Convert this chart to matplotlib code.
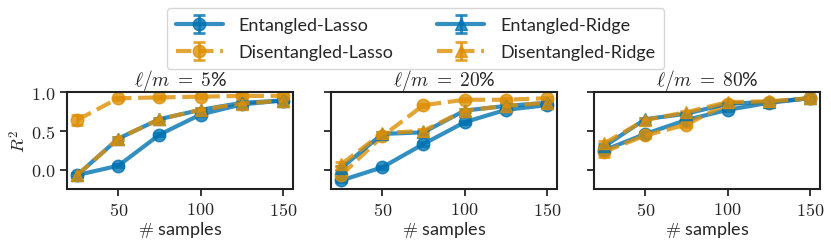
import numpy as np
import matplotlib
matplotlib.use("Agg")
import matplotlib.pyplot as plt
from matplotlib.ticker import FormatStrFormatter
import seaborn as sns

sns.set_style("ticks")
plt.rcParams['font.family'] = ['Lato', 'DejaVu Sans']
plt.rcParams['mathtext.fontset'] = 'cm'

samples = [25, 50, 75, 100, 125, 150]
ratios = ['5', '20', '80']

# R^2 per ratio panel
ent_lasso = [
    [-0.07, 0.05, 0.45, 0.71, 0.84, 0.89],
    [-0.14, 0.03, 0.33, 0.61, 0.77, 0.83],
    [0.25, 0.46, 0.64, 0.77, 0.86, 0.92],
]
ent_ridge = [
    [-0.07, 0.40, 0.65, 0.77, 0.86, 0.89],
    [0.02, 0.46, 0.48, 0.76, 0.82, 0.86],
    [0.30, 0.65, 0.72, 0.85, 0.87, 0.92],
]
dis_lasso = [
    [0.64, 0.92, 0.93, 0.94, 0.95, 0.95],
    [-0.07, 0.43, 0.83, 0.90, 0.90, 0.92],
    [0.23, 0.44, 0.58, 0.85, 0.87, 0.92],
]
dis_ridge = [
    [-0.07, 0.40, 0.65, 0.77, 0.85, 0.89],
    [0.07, 0.47, 0.50, 0.76, 0.82, 0.86],
    [0.34, 0.64, 0.74, 0.87, 0.88, 0.92],
]
# error bars
ent_lasso_err = [
    [0.02, 0.02, 0.02, 0.02, 0.02, 0.02],
    [0.02, 0.02, 0.02, 0.02, 0.02, 0.02],
    [0.03, 0.02, 0.02, 0.02, 0.02, 0.02],
]
ent_ridge_err = ent_lasso_err
dis_lasso_err = [
    [0.07, 0.02, 0.02, 0.02, 0.02, 0.02],
    [0.03, 0.02, 0.02, 0.02, 0.02, 0.02],
    [0.07, 0.03, 0.03, 0.02, 0.02, 0.02],
]
dis_ridge_err = [
    [0.03, 0.02, 0.02, 0.02, 0.02, 0.02],
    [0.03, 0.02, 0.02, 0.02, 0.02, 0.02],
    [0.03, 0.02, 0.02, 0.02, 0.02, 0.02],
]

blue = '#0173b2'
orange = '#de8f05'

series = [
    ('Entangled-Lasso', ent_lasso, ent_lasso_err, blue, 'o', '-'),
    ('Disentangled-Lasso', dis_lasso, dis_lasso_err, orange, 'o', '--'),
    ('Entangled-Ridge', ent_ridge, ent_ridge_err, blue, '^', '-'),
    ('Disentangled-Ridge', dis_ridge, dis_ridge_err, orange, '^', '--'),
]

fig = plt.figure(figsize=(8.31, 2.51), dpi=100)
lefts = [67, 331, 594]
axes = []
for i, left in enumerate(lefts):
    ax = fig.add_axes([left / 831, 61 / 251, 226 / 831, 97 / 251])
    axes.append(ax)
    for label, vals, errs, color, marker, ls in series:
        ax.errorbar(samples, vals[i], yerr=errs[i], color=color, marker=marker,
                    linestyle=ls, linewidth=3, markersize=9, capsize=4,
                    elinewidth=2, capthick=2, alpha=0.8, label=label)
    ax.set_ylim(-0.25, 1.0)
    ax.set_yticks([0.0, 0.5, 1.0])
    ax.set_xticks([50, 100, 150])
    ax.xaxis.set_major_formatter(FormatStrFormatter(r'$%d$'))
    ax.yaxis.set_major_formatter(FormatStrFormatter(r'$%.1f$'))
    ax.tick_params(labelsize=13, length=5, width=1.3)
    for sp in ax.spines.values():
        sp.set_linewidth(1.5)
        sp.set_color('#222222')
    ax.set_title(r'$\ell/m \;=\; ' + ratios[i] + r'$%', fontsize=14, pad=2)
    ax.set_xlabel(r'$\#$ samples', fontsize=13, labelpad=1)
    if i == 0:
        ax.set_ylabel(r'$R^2$', fontsize=13, labelpad=2)
    else:
        ax.set_yticklabels([])

handles, labels = axes[0].get_legend_handles_labels()
fig.legend(handles, labels, loc='upper center', bbox_to_anchor=(0.5, 1.0),
           ncol=2, fontsize=13, handlelength=2.6, handletextpad=0.9,
           columnspacing=2.4, borderpad=0.5, labelspacing=0.6, frameon=True)

fig.savefig('out.png', dpi=100)
